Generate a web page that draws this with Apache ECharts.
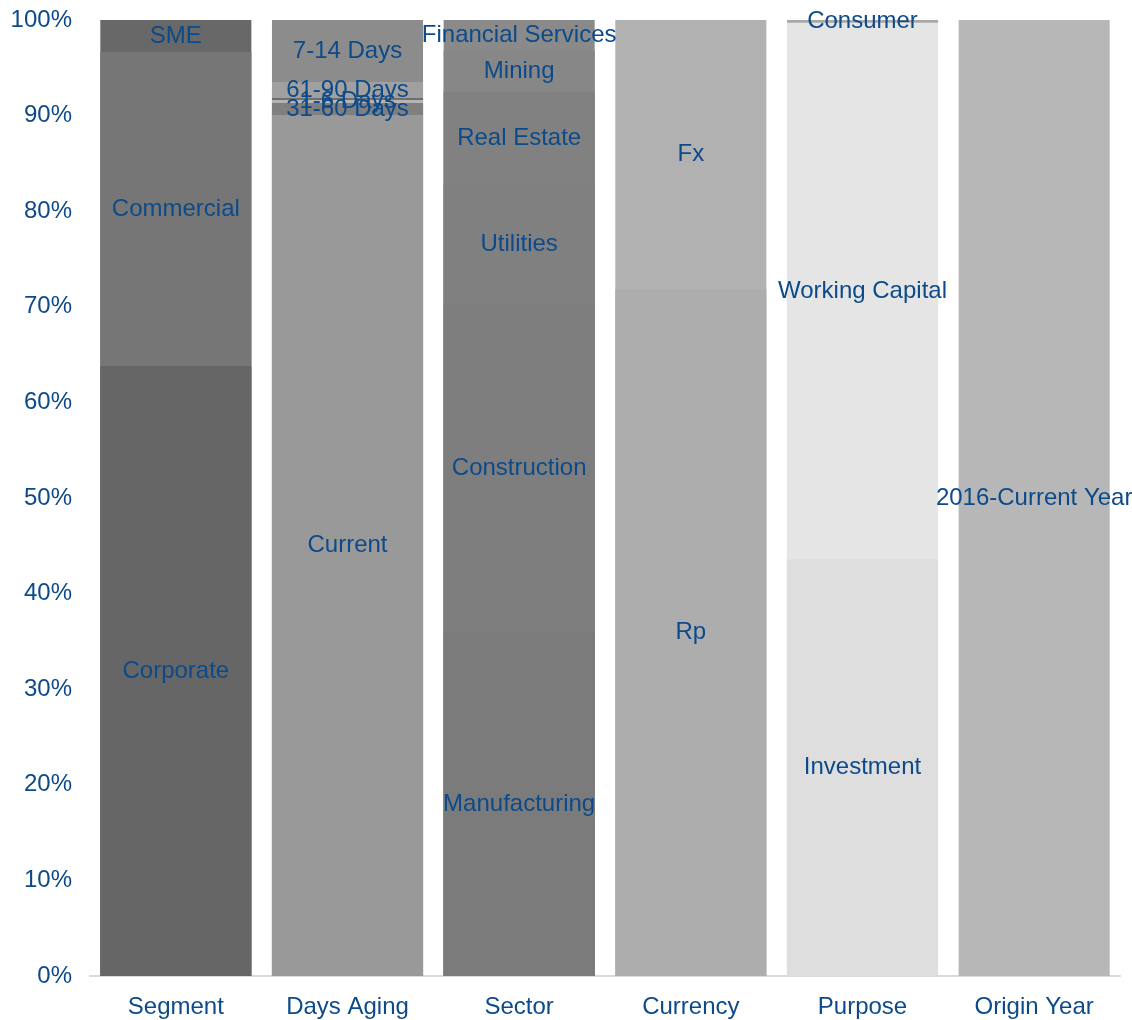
<!DOCTYPE html>
<html>
<head>
<meta charset="utf-8">
<script src="https://cdn.jsdelivr.net/npm/echarts@6/dist/echarts.min.js"></script>
<style>
  html, body { margin: 0; padding: 0; background: #fff; }
  #chart { width: 1132px; height: 1020px; }
</style>
</head>
<body>
<div id="chart"></div>
<script>
const categories = ['Segment', 'Days Aging', 'Sector', 'Currency', 'Purpose', 'Origin Year'];

// each column is its own 100% stack, bottom to top
const segmentNames = ['Corporate', 'Commercial', 'SME'];
const segmentValues = [63.8, 32.85, 3.35];

const agingNames = ['Current', '31-60 Days', '1-6 Days', '', '61-90 Days', '7-14 Days'];
const agingValues = [90.06, 1.26, 0.31, 0.21, 1.67, 6.49];

const sectorNames = ['Manufacturing', 'Construction', 'Utilities', 'Real Estate', 'Mining', 'Financial Services'];
const sectorValues = [36.0, 34.2, 12.6, 9.7, 4.3, 3.2];

const currencyNames = ['Rp', 'Fx'];
const currencyValues = [71.8, 28.2];

const purposeNames = ['Investment', 'Working Capital', 'Consumer'];
const purposeValues = [43.6, 56.1, 0.3];

const originNames = ['2016-Current Year'];
const originValues = [100];

// colours
const segmentColors = ['#666666', '#767676', '#686868'];
const agingColors = ['#999999', '#7f7f7f', '#b4b4b4', '#6e6e6e', '#a0a0a0', '#8c8c8c'];
const sectorColors = ['#7b7b7b', '#7e7e7e', '#808080', '#818181', '#878787', '#8a8a8a'];
const currencyColors = ['#adadad', '#b1b1b1'];
const purposeColors = ['#dedede', '#e5e5e5', '#a8a8a8'];
const originColors = ['#b7b7b7'];

const textBlue = '#0c4a8a';
const font = 'Liberation Sans, Arial, sans-serif';

const groups = [
  [segmentNames, segmentValues, segmentColors],
  [agingNames, agingValues, agingColors],
  [sectorNames, sectorValues, sectorColors],
  [currencyNames, currencyValues, currencyColors],
  [purposeNames, purposeValues, purposeColors],
  [originNames, originValues, originColors]
];

function onlyAt(ci, v) {
  return categories.map(function (c, k) { return k === ci ? v : '-'; });
}

// Coloured pieces: drawn as overlapping bars from 0 up to the running total,
// top piece first, so stacked edges don't leave light anti-aliasing seams.
let colourSeries = [];
// Label pieces: an invisible real stack on a twin axis, one label per piece.
let labelSeries = [];
groups.forEach(function (g, ci) {
  let tops = [];
  let run = 0;
  g[1].forEach(function (v) { run += v; tops.push(run); });
  for (let i = g[0].length - 1; i >= 0; i--) {
    colourSeries.push({
      type: 'bar',
      xAxisIndex: 0,
      barGap: '-100%',
      barCategoryGap: '12%',
      data: onlyAt(ci, tops[i]),
      itemStyle: { color: g[2][i] },
      emphasis: { disabled: true },
      silent: true
    });
  }
  g[0].forEach(function (name, i) {
    labelSeries.push({
      type: 'bar',
      xAxisIndex: 1,
      stack: 'labels',
      name: name,
      barCategoryGap: '12%',
      data: onlyAt(ci, g[1][i]),
      itemStyle: { color: 'rgba(0,0,0,0)' },
      label: {
        show: name !== '',
        position: 'inside',
        formatter: '{a}',
        color: textBlue,
        fontSize: 24,
        fontFamily: font
      },
      emphasis: { disabled: true }
    });
  });
});

let mychart = echarts.init(document.getElementById('chart'));
mychart.setOption({
  animation: false,
  grid: { left: 90, right: 12, top: 20, bottom: 44 },
  xAxis: [{
    type: 'category',
    data: categories,
    axisLine: { lineStyle: { color: '#d9d9d9', width: 2 } },
    axisTick: { show: false },
    axisLabel: { color: textBlue, fontSize: 24, fontFamily: font, margin: 19 }
  }, {
    type: 'category',
    data: categories,
    position: 'bottom',
    show: false
  }],
  yAxis: {
    type: 'value',
    min: 0,
    max: 100,
    interval: 10,
    axisLine: { show: false },
    axisTick: { show: false },
    splitLine: { show: false },
    axisLabel: { formatter: '{value}%', color: textBlue, fontSize: 24, fontFamily: font, margin: 18 }
  },
  series: colourSeries.concat(labelSeries)
});
</script>
</body>
</html>
